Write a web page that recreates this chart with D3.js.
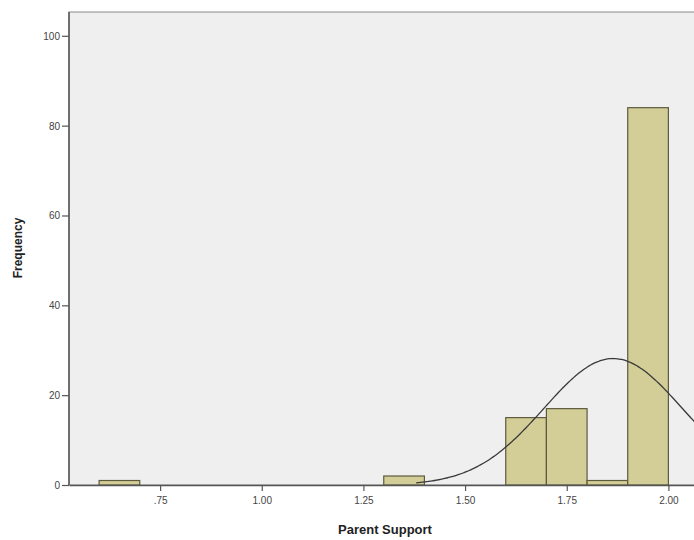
<!DOCTYPE html>
<html>
<head>
<meta charset="utf-8">
<script src="https://cdn.jsdelivr.net/npm/d3@7"></script>
<style>
  body { margin: 0; background: #fff; overflow: hidden; }
  svg { display: block; }
</style>
</head>
<body>
<script>
// Histograma de "Parent Support" con curva normal
const binInicio = [0.6, 1.3, 1.6, 1.7, 1.8, 1.9];
const binFin    = [0.7, 1.4, 1.7, 1.8, 1.9, 2.0];
const frecuencias = [1, 2, 15, 17, 1, 84];

const ticksX = [0.75, 1.00, 1.25, 1.50, 1.75, 2.00];
const etiquetasX = [".75", "1.00", "1.25", "1.50", "1.75", "2.00"];
const ticksY = [0, 20, 40, 60, 80, 100];

// Parámetros de la curva normal
const media = 1.864;
const desvio = 0.17;
const anchoBin = 0.1;
const N = d3.sum(frecuencias);

const ancho = 694, alto = 540;
const margen = { top: 12, left: 69, bottom: 55 };

const svg = d3.select("body")
  .append("svg")
  .attr("width", ancho)
  .attr("height", alto);

const escalaX = d3.scaleLinear()
  .domain([0.526, 2.09])
  .range([margen.left, 705]);

const escalaY = d3.scaleLinear()
  .domain([0, 105.3])
  .range([alto - margen.bottom, margen.top]);

const y0 = escalaY(0);

// fondo del área de gráfico
svg.append("rect")
  .attr("x", margen.left)
  .attr("y", margen.top)
  .attr("width", escalaX.range()[1] - margen.left)
  .attr("height", y0 - margen.top)
  .attr("fill", "#efefef")
  .attr("stroke", "#8a8a8a")
  .attr("stroke-width", 1);

const datos = frecuencias.map((f, i) => ({ x0: binInicio[i], x1: binFin[i], f }));

svg.selectAll("rect.barra")
  .data(datos)
  .join("rect")
  .attr("class", "barra")
  .attr("x", d => escalaX(d.x0))
  .attr("y", d => escalaY(d.f))
  .attr("width", d => escalaX(d.x1) - escalaX(d.x0))
  .attr("height", d => y0 - escalaY(d.f))
  .attr("fill", "#d3ce97")
  .attr("stroke", "#5d5a3e")
  .attr("stroke-width", 1.2);

// curva normal
const puntos = d3.range(1.38, 2.1, 0.005).map(v => {
  const z = (v - media) / desvio;
  const dens = N * anchoBin / (desvio * Math.sqrt(2 * Math.PI)) * Math.exp(-0.5 * z * z);
  return [v, dens];
});

svg.append("path")
  .datum(puntos)
  .attr("fill", "none")
  .attr("stroke", "#3a3a3a")
  .attr("stroke-width", 1.3)
  .attr("d", d3.line().x(d => escalaX(d[0])).y(d => escalaY(d[1])).curve(d3.curveBasis));

// ejes
const ejeX = d3.axisBottom(escalaX)
  .tickValues(ticksX)
  .tickFormat((d, i) => etiquetasX[i])
  .tickSize(6)
  .tickSizeOuter(0);

const gX = svg.append("g")
  .attr("transform", `translate(0,${y0})`)
  .call(ejeX);

const ejeY = d3.axisLeft(escalaY)
  .tickValues(ticksY)
  .tickSize(7)
  .tickSizeOuter(0);

const gY = svg.append("g")
  .attr("transform", `translate(${margen.left},0)`)
  .call(ejeY);

[gX, gY].forEach(g => {
  g.select(".domain").attr("stroke", "#555").attr("stroke-width", 1.5);
  g.selectAll(".tick line").attr("stroke", "#555").attr("stroke-width", 1.2);
  g.selectAll(".tick text")
    .attr("fill", "#444")
    .style("font-family", "Liberation Sans, Arial, sans-serif")
    .style("font-size", "10px");
});
gY.select(".domain").attr("d", `M0,${margen.top}V${y0}`);
gX.selectAll(".tick text").attr("dy", "1em").attr("y", 9);
gY.selectAll(".tick text").attr("x", -9).attr("dy", "0.35em");

// títulos
svg.append("text")
  .attr("x", 385)
  .attr("y", 534)
  .attr("text-anchor", "middle")
  .style("font-family", "Liberation Sans, Arial, sans-serif")
  .style("font-size", "13px")
  .style("font-weight", "bold")
  .attr("fill", "#222")
  .text("Parent Support");

svg.append("text")
  .attr("transform", `translate(22, 248) rotate(-90)`)
  .attr("text-anchor", "middle")
  .style("font-family", "Liberation Sans, Arial, sans-serif")
  .style("font-size", "12px")
  .style("font-weight", "bold")
  .attr("fill", "#222")
  .text("Frequency");
</script>
</body>
</html>
